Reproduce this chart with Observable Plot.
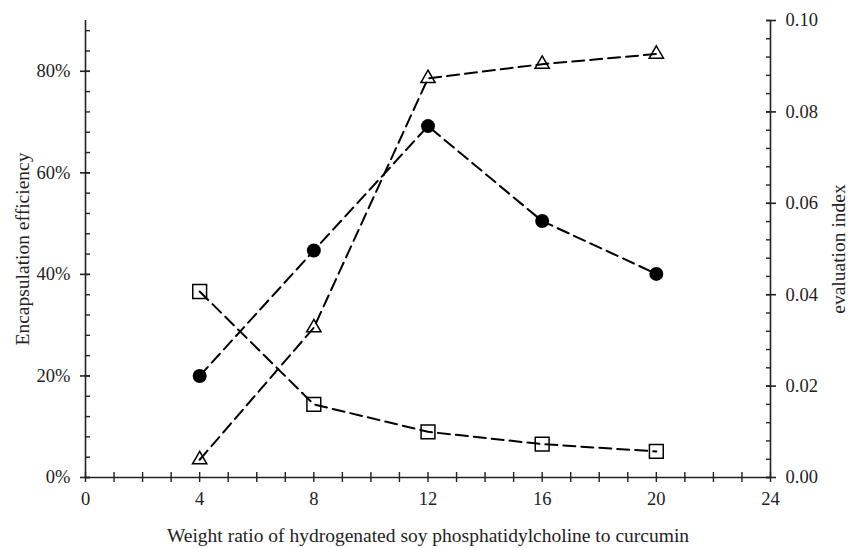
<!DOCTYPE html>
<html><head><meta charset="utf-8">
<script src="https://cdn.jsdelivr.net/npm/d3@7"></script>
<script src="https://cdn.jsdelivr.net/npm/@observablehq/plot@0.6"></script>
<style>
body{margin:0;background:#fff}
#chart svg, #chart svg text { font-family: "Liberation Serif", "Times New Roman", Times, "DejaVu Serif", serif !important; }
</style>
</head><body><div id="chart"></div>
<script>
// ---- data ----
const ratios = [4, 8, 12, 16, 20];
const efficiencyCircles = [0.200, 0.447, 0.692, 0.505, 0.401];
const efficiencyTriangles = [0.035, 0.295, 0.786, 0.814, 0.834];
const evaluationIndex = [0.0407, 0.0160, 0.0100, 0.0073, 0.0057];

const xTicks = [0, 4, 8, 12, 16, 20, 24];
const leftTicks = [0, 0.2, 0.4, 0.6, 0.8];
const leftTickLabels = ["0%", "20%", "40%", "60%", "80%"];
const rightTicks = [0, 0.02, 0.04, 0.06, 0.08, 0.10];
const rightTickLabels = ["0.00", "0.02", "0.04", "0.06", "0.08", "0.10"];
const xTitle = "Weight ratio of hydrogenated soy phosphatidylcholine to curcumin";
const leftTitle = "Encapsulation efficiency";
const rightTitle = "evaluation index";

// ---- scales ----
const leftMax = 0.9, rightMax = 0.1;
const k = leftMax / rightMax; // right axis -> left axis units

const circles = ratios.map((x, i) => ({x, y: efficiencyCircles[i]}));
const triangles = ratios.map((x, i) => ({x, y: efficiencyTriangles[i]}));
const squares = ratios.map((x, i) => ({x, y: evaluationIndex[i] * k}));

const leftMinor = d3.range(0, 23).map(i => i * 0.04).filter(v => v <= leftMax + 1e-9);
const rightMinor = d3.range(0, 26).map(i => i * 0.004 * k);
const xMinor = d3.range(0, 25);

const ink = "#222";
const font = "'Liberation Serif', 'Times New Roman', serif";
const lineStyle = {x: "x", y: "y", stroke: "black", strokeWidth: 2, strokeDasharray: "12,6"};
const blank = () => "";

const chart = Plot.plot({
  width: 848,
  height: 548,
  marginLeft: 85,
  marginRight: 78,
  marginTop: 20,
  marginBottom: 71,
  style: {fontFamily: font, fontSize: "18px", color: ink, background: "white"},
  x: {domain: [0, 24]},
  y: {domain: [0, leftMax]},
  marks: [
    // axis lines
    Plot.ruleX([0, 24], {stroke: ink, strokeWidth: 1.6}),
    Plot.ruleY([0], {stroke: ink, strokeWidth: 1.6}),
    // left axis
    Plot.axisY({anchor: "left", ticks: leftMinor, tickSize: 5, dx: 5, tickFormat: blank, label: null, stroke: ink, strokeWidth: 1.4}),
    Plot.axisY({anchor: "left", ticks: leftTicks, tickSize: 10, dx: 5, tickFormat: blank, label: null, stroke: ink, strokeWidth: 1.6}),
    Plot.axisY({anchor: "left", ticks: leftTicks, tickSize: 0, tickPadding: 15, tickFormat: (d, i) => leftTickLabels[i], label: null, fontSize: 18.5, fill: ink}),
    // right axis
    Plot.axisY({anchor: "right", ticks: rightMinor, tickSize: 5, dx: -5, tickFormat: blank, label: null, stroke: ink, strokeWidth: 1.4}),
    Plot.axisY({anchor: "right", ticks: rightTicks.map(v => v * k), tickSize: 10, dx: -5, tickFormat: blank, label: null, stroke: ink, strokeWidth: 1.6}),
    Plot.axisY({anchor: "right", ticks: rightTicks.map(v => v * k), tickSize: 0, tickPadding: 15, tickFormat: (d, i) => rightTickLabels[i], label: null, fontSize: 18.5, fill: ink}),
    // x axis
    Plot.axisX({anchor: "bottom", ticks: xMinor, tickSize: 10, dy: -5, tickFormat: blank, label: null, stroke: ink, strokeWidth: 1.4}),
    Plot.axisX({anchor: "bottom", ticks: xTicks, tickSize: 0, tickPadding: 14, tickFormat: d => String(d), label: null, fontSize: 18.5, fill: ink}),
    // titles
    Plot.text([xTitle], {text: d => d, frameAnchor: "bottom", dy: 58, textAnchor: "middle", lineAnchor: "middle", fontSize: 19.5, fill: ink}),
    Plot.text([leftTitle], {text: d => d, frameAnchor: "left", dx: -63, rotate: -90, textAnchor: "middle", lineAnchor: "middle", fontSize: 19.5, fill: ink}),
    Plot.text([rightTitle], {text: d => d, frameAnchor: "right", dx: 68, rotate: -90, textAnchor: "middle", lineAnchor: "middle", fontSize: 19.5, fill: ink}),
    // series
    Plot.line(circles, lineStyle),
    Plot.line(triangles, lineStyle),
    Plot.line(squares, lineStyle),
    Plot.dot(circles, {x: "x", y: "y", r: 7, fill: "black", stroke: "none"}),
    Plot.dot(triangles, {x: "x", y: "y", symbol: "triangle", r: 5.3, fill: "none", stroke: "black", strokeWidth: 1.5}),
    Plot.dot(squares, {x: "x", y: "y", symbol: "square", r: 7.8, fill: "none", stroke: "black", strokeWidth: 1.5})
  ]
});
document.getElementById("chart").appendChild(chart);
</script>
</body></html>
